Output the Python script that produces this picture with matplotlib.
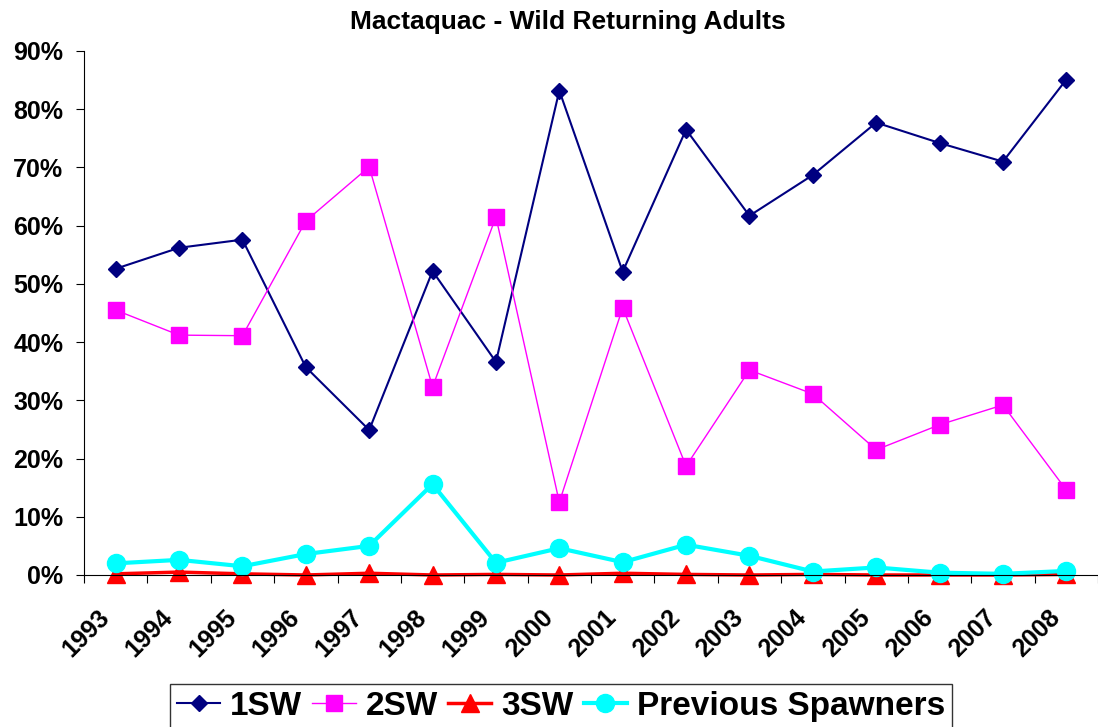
import matplotlib.pyplot as plt
import numpy as np
from matplotlib.ticker import FixedLocator, PercentFormatter
from matplotlib.transforms import ScaledTranslation

plt.rcParams['font.family'] = ['Liberation Sans', 'DejaVu Sans']
plt.rcParams['font.weight'] = 'bold'

years = ['1993', '1994', '1995', '1996', '1997', '1998', '1999', '2000',
         '2001', '2002', '2003', '2004', '2005', '2006', '2007', '2008']

sw1 = [52.6, 56.2, 57.6, 35.7, 24.9, 52.2, 36.6, 83.2,
       52.1, 76.5, 61.7, 68.7, 77.7, 74.2, 71.0, 85.1]
sw2 = [45.5, 41.2, 41.1, 60.8, 70.1, 32.3, 61.5, 12.5,
       45.9, 18.7, 35.2, 31.1, 21.5, 25.8, 29.2, 14.6]
sw3 = [0.2, 0.5, 0.2, 0.0, 0.3, 0.0, 0.1, 0.0,
       0.3, 0.1, 0.0, 0.1, 0.0, 0.0, 0.0, 0.1]
prev = [2.0, 2.6, 1.5, 3.6, 5.0, 15.6, 2.1, 4.6,
        2.2, 5.2, 3.3, 0.6, 1.3, 0.4, 0.2, 0.7]

x = np.arange(len(years))

fig = plt.figure(figsize=(10.98, 7.27), dpi=100)
ax = fig.add_axes([84 / 1098, 1 - 575 / 727, 1 - 84 / 1098, (575 - 51) / 727])

ax.plot(x, sw1, color='#000080', lw=1.5, marker='D', ms=8, label='1SW', clip_on=False)
ax.plot(x, sw2, color='#FF00FF', lw=1.0, marker='s', ms=12, label='2SW', clip_on=False)
ax.plot(x, sw3, color='#FF0000', lw=2.5, marker='^', ms=12.5, label='3SW', clip_on=False)
ax.plot(x, prev, color='#00FFFF', lw=3, marker='o', ms=13, label='Previous Spawners', clip_on=False)

ax.set_xlim(-0.5, len(years) - 0.5)
ax.set_ylim(0, 90)
ax.set_yticks(np.arange(0, 91, 10))
ax.yaxis.set_major_formatter(PercentFormatter(decimals=0))

ax.set_xticks(x)
ax.set_xticklabels(years, rotation=45, ha='right', va='center', rotation_mode='anchor')
ax.xaxis.set_minor_locator(FixedLocator(np.arange(-0.5, len(years), 1)))
ax.tick_params(axis='x', which='major', length=0, pad=31, labelsize=18)
ax.tick_params(axis='x', which='minor', length=5.8, width=0.8, direction='out')
ax.tick_params(axis='y', length=5.8, width=0.8, pad=9, labelsize=18)

# nudge the rotated year labels left/up like the original
shift = ScaledTranslation(-10 / 100, 4 / 100, fig.dpi_scale_trans)
for lbl in ax.get_xticklabels():
    lbl.set_transform(lbl.get_transform() + shift)

for s in ['top', 'right']:
    ax.spines[s].set_visible(False)
for s in ['left', 'bottom']:
    ax.spines[s].set_linewidth(0.8)

fig.text(568 / 1098, 1 - 22 / 727, 'Mactaquac - Wild Returning Adults',
         ha='center', va='center', fontsize=19, fontweight='bold')

leg = fig.legend(loc='upper center', bbox_to_anchor=(561 / 1098, 1 - 684 / 727),
                 borderaxespad=0, ncol=4, fontsize=24, frameon=True, fancybox=False,
                 handlelength=1.3, handletextpad=0.3, columnspacing=0.3,
                 borderpad=0.2, markerscale=1.0)
leg.get_frame().set_edgecolor('black')
leg.get_frame().set_linewidth(1)

fig.savefig('out.png', dpi=100, facecolor='white')
